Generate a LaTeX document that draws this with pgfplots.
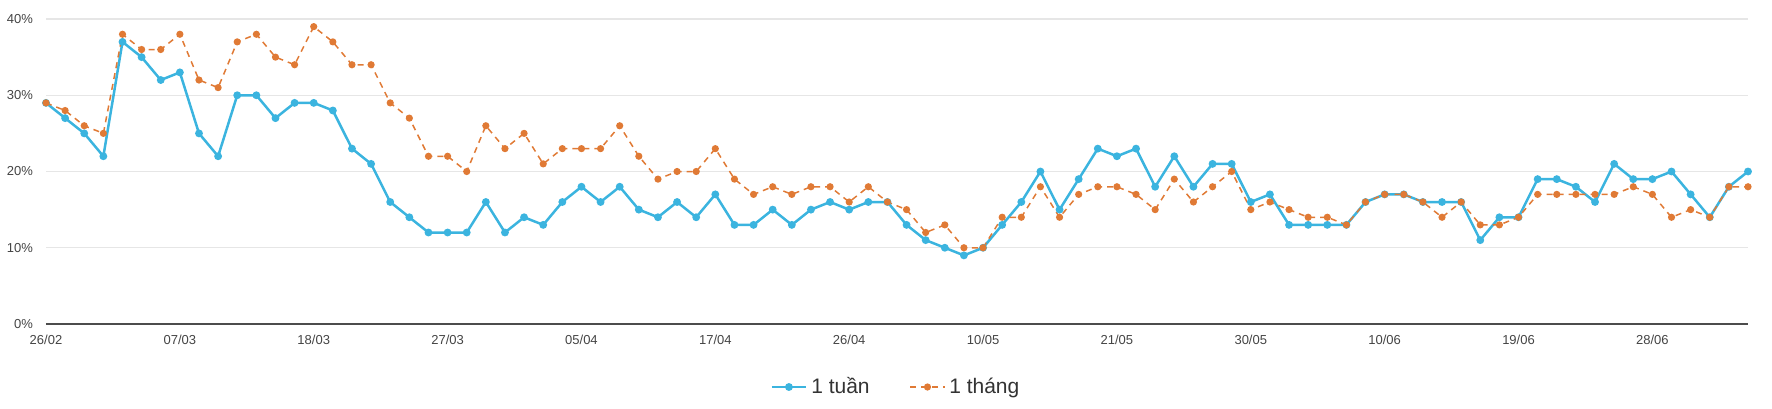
\documentclass[border=0pt]{standalone}
\usepackage{pgfplots}
\pgfplotsset{compat=1.18}
\usepackage{pgfplotstable}
\usepackage{fontspec}
\setmainfont{Liberation Sans}
\definecolor{cblue}{HTML}{3BB4DF}
\definecolor{corange}{HTML}{E07A35}
\definecolor{gridc}{HTML}{E6E6E6}
\definecolor{txt}{HTML}{444444}

\pgfplotstableread{
i w m
0 29 29
1 27 28
2 25 26
3 22 25
4 37 38
5 35 36
6 32 36
7 33 38
8 25 32
9 22 31
10 30 37
11 30 38
12 27 35
13 29 34
14 29 39
15 28 37
16 23 34
17 21 34
18 16 29
19 14 27
20 12 22
21 12 22
22 12 20
23 16 26
24 12 23
25 14 25
26 13 21
27 16 23
28 18 23
29 16 23
30 18 26
31 15 22
32 14 19
33 16 20
34 14 20
35 17 23
36 13 19
37 13 17
38 15 18
39 13 17
40 15 18
41 16 18
42 15 16
43 16 18
44 16 16
45 13 15
46 11 12
47 10 13
48 9 10
49 10 10
50 13 14
51 16 14
52 20 18
53 15 14
54 19 17
55 23 18
56 22 18
57 23 17
58 18 15
59 22 19
60 18 16
61 21 18
62 21 20
63 16 15
64 17 16
65 13 15
66 13 14
67 13 14
68 13 13
69 16 16
70 17 17
71 17 17
72 16 16
73 16 14
74 16 16
75 11 13
76 14 13
77 14 14
78 19 17
79 19 17
80 18 17
81 16 17
82 21 17
83 19 18
84 19 17
85 20 14
86 17 15
87 14 14
88 18 18
89 20 18
}\datatable

\begin{document}
\begin{tikzpicture}
\useasboundingbox (-23pt,-42pt) rectangle (863pt,162pt);
\begin{axis}[
  at={(0,0)}, anchor=south west,
  scale only axis, width=851pt, height=152.5pt,
  xmin=0, xmax=89, ymin=0, ymax=40,
  xtick={0,7,...,84},
  xticklabels={26/02,07/03,18/03,27/03,05/04,17/04,26/04,10/05,21/05,30/05,10/06,19/06,28/06},
  ytick={0,10,20,30,40},
  yticklabels={0\%,10\%,20\%,30\%,40\%},
  ymajorgrids, xmajorgrids=false,
  grid style={draw=gridc, line width=0.6pt},
  separate axis lines,
  axis x line*=bottom, axis y line*=left,
  x axis line style={draw=black!70, line width=1pt, -},
  y axis line style={draw=none},
  major tick length=0pt,
  ticklabel style={font=\fontsize{6.5}{7}\selectfont, text=txt},
  yticklabel style={xshift=-3pt},
  xticklabel style={yshift=-2pt},
  clip=false,
  legend style={at={(0.5,0)}, anchor=center, yshift=-31.5pt, draw=none,
    legend columns=2, font=\fontsize{10.5}{12}\selectfont, text=black!80,
    /tikz/every even column/.append style={column sep=18pt}},
]
\addplot[cblue, line width=1.25pt, mark=*, mark size=1.3pt, mark options={solid}] table[x=i, y=w] {\datatable};
\addlegendentry{1 tuần}
\addplot[corange, line width=0.75pt, dash pattern=on 3pt off 2.5pt, mark=*, mark size=1.4pt, mark options={solid}] table[x=i, y=m] {\datatable};
\addlegendentry{1 tháng}
\end{axis}
\end{tikzpicture}
\end{document}
